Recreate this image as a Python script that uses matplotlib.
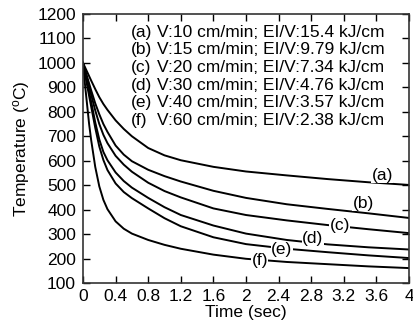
import matplotlib
matplotlib.use("Agg")
import matplotlib.pyplot as plt

plt.rcParams["font.family"] = ["Liberation Sans", "DejaVu Sans"]
plt.rcParams["mathtext.fontset"] = "custom"
plt.rcParams["mathtext.rm"] = "Liberation Sans"
plt.rcParams["mathtext.it"] = "Liberation Sans"

# time (sec) sample points
time = [0, 0.025, 0.05, 0.075, 0.1, 0.15, 0.2, 0.25, 0.3, 0.4, 0.5, 0.6,
        0.8, 1.0, 1.2, 1.6, 2.0, 2.5, 3.0, 3.5, 4.0]

temp_a = [1000, 982, 964, 946, 928, 893, 860, 832, 808, 765, 730, 700,
          652, 622, 602, 575, 556, 540, 525, 512, 501]
temp_b = [1000, 972, 944, 916, 888, 835, 790, 750, 718, 662, 625, 598,
          563, 537, 515, 477, 448, 422, 403, 385, 366]
temp_c = [1000, 968, 936, 903, 870, 806, 750, 706, 672, 620, 584, 555,
          510, 476, 450, 405, 378, 356, 337, 320, 304]
temp_d = [1000, 960, 920, 880, 842, 757, 687, 636, 602, 552, 517, 490,
          448, 410, 378, 335, 302, 276, 258, 246, 237]
temp_e = [1000, 955, 910, 865, 822, 735, 658, 603, 562, 507, 472, 447,
          405, 365, 332, 287, 259, 240, 226, 213, 202]
temp_f = [1000, 910, 830, 750, 685, 575, 495, 440, 402, 352, 322, 302,
          276, 256, 240, 216, 199, 186, 177, 168, 161]

curve_tags = ["(a)", "(b)", "(c)", "(d)", "(e)", "(f)"]
tag_pos = [(3.67, 541), (3.44, 427), (3.15, 337), (2.82, 284), (2.44, 235), (2.17, 194)]

legend_rows = [
    "V:10 cm/min; EI/V:15.4 kJ/cm",
    "V:15 cm/min; EI/V:9.79 kJ/cm",
    "V:20 cm/min; EI/V:7.34 kJ/cm",
    "V:30 cm/min; EI/V:4.76 kJ/cm",
    "V:40 cm/min; EI/V:3.57 kJ/cm",
    "V:60 cm/min; EI/V:2.38 kJ/cm",
]

x_ticks = [0, 0.4, 0.8, 1.2, 1.6, 2, 2.4, 2.8, 3.2, 3.6, 4]
x_tick_labels = ["0", "0.4", "0.8", "1.2", "1.6", "2", "2.4", "2.8", "3.2", "3.6", "4"]
y_ticks = list(range(100, 1201, 100))

fig = plt.figure(figsize=(4.13, 3.26), dpi=100)
ax = fig.add_axes([83 / 413, 1 - 283 / 326, 326 / 413, 269 / 326])

for temps in [temp_a, temp_b, temp_c, temp_d, temp_e, temp_f]:
    ax.plot(time, temps, color="black", linewidth=1.4, zorder=2,
            solid_joinstyle="round")

# curve tags, white box to break the line like the original
for tag, (tx, ty) in zip(curve_tags, tag_pos):
    ax.text(tx, ty, tag, fontsize=12.5, ha="center", va="center", zorder=3,
            bbox=dict(facecolor="white", edgecolor="none", pad=0.3))

for i, (tag, row) in enumerate(zip(curve_tags, legend_rows)):
    yy = 0.932 - i * 0.0655
    ax.text(0.147, yy, tag, fontsize=12.5, ha="left", va="center", transform=ax.transAxes)
    ax.text(0.227, yy, row, fontsize=12.5, ha="left", va="center", transform=ax.transAxes)

ax.set_xlim(0, 4)
ax.set_ylim(100, 1200)
ax.set_xticks(x_ticks)
ax.set_xticklabels(x_tick_labels)
ax.set_yticks(y_ticks)
ax.tick_params(direction="in", length=5, width=1, top=True, right=True,
               labelsize=12.5)
ax.tick_params(axis="x", pad=4)
ax.tick_params(axis="y", pad=5)
for sp in ax.spines.values():
    sp.set_linewidth(1.2)
    sp.set_color("#333333")

ax.set_xlabel("Time (sec)", fontsize=12.5, labelpad=1)
ax.set_ylabel("Temperature ($^{o}$C)", fontsize=12.5, labelpad=4)

fig.savefig("out.png", dpi=100)
